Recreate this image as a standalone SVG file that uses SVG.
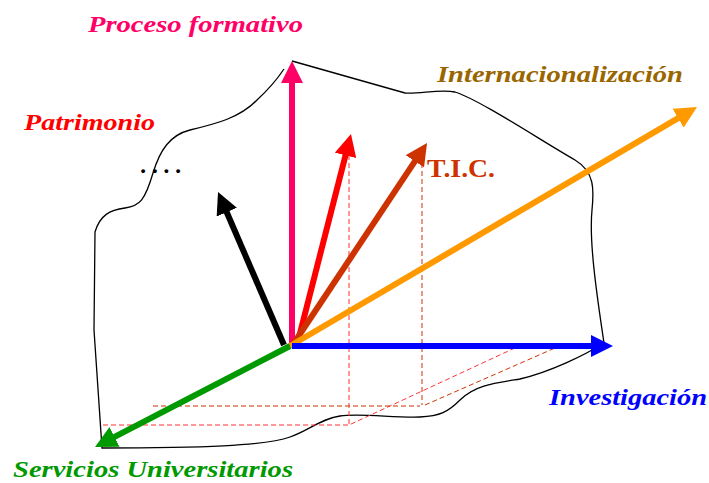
<svg xmlns="http://www.w3.org/2000/svg" width="709" height="483" viewBox="0 0 709 483">
<style>
.lbl{font-family:"Liberation Serif","Times New Roman",serif;font-weight:bold;font-style:italic;font-size:24px}
.tic{font-family:"Liberation Serif","Times New Roman",serif;font-weight:bold;font-size:26px;fill:#cc3300}
.vec{fill:none;stroke-width:6;stroke-linecap:butt}
.dr{fill:none;stroke:#ff3333;stroke-width:1;stroke-dasharray:5 3}
.db{fill:none;stroke:#cc3300;stroke-width:1;stroke-dasharray:5 3}
.outline{fill:none;stroke:#000;stroke-width:1.3}
</style>
<defs>
<marker id="hPink" viewBox="0 0 22 22" refX="12" refY="11" markerWidth="22" markerHeight="22" markerUnits="userSpaceOnUse" orient="auto"><path d="M0,0 L22,11 L0,22 z" fill="#ff0066"/></marker>
<marker id="hRed" viewBox="0 0 22 22" refX="12" refY="11" markerWidth="22" markerHeight="22" markerUnits="userSpaceOnUse" orient="auto"><path d="M0,0 L22,11 L0,22 z" fill="#ff0000"/></marker>
<marker id="hBrown" viewBox="0 0 22 22" refX="12" refY="11" markerWidth="22" markerHeight="22" markerUnits="userSpaceOnUse" orient="auto"><path d="M0,0 L22,11 L0,22 z" fill="#cc3300"/></marker>
<marker id="hOrange" viewBox="0 0 22 22" refX="12" refY="11" markerWidth="22" markerHeight="22" markerUnits="userSpaceOnUse" orient="auto"><path d="M0,0 L22,11 L0,22 z" fill="#ff9900"/></marker>
<marker id="hBlue" viewBox="0 0 22 22" refX="12" refY="11" markerWidth="22" markerHeight="22" markerUnits="userSpaceOnUse" orient="auto"><path d="M0,0 L22,11 L0,22 z" fill="#0000ff"/></marker>
<marker id="hGreen" viewBox="0 0 22 22" refX="12" refY="11" markerWidth="22" markerHeight="22" markerUnits="userSpaceOnUse" orient="auto"><path d="M0,0 L22,11 L0,22 z" fill="#009900"/></marker>
<marker id="hBlack" viewBox="0 0 22 22" refX="12" refY="11" markerWidth="22" markerHeight="22" markerUnits="userSpaceOnUse" orient="auto"><path d="M0,0 L22,11 L0,22 z" fill="#000000"/></marker>
</defs>
<rect width="709" height="483" fill="#ffffff"/>
<g id="surface">
<path class="outline" d="M292,61 L405,93 C420,94 440,89 455,92 C480,100 540,140 575,160 C595,172 594,190 592,210 C589,240 596,290 604,343 C585,355 550,372 520,379 C495,383 475,385 460,400 C448,412 440,416 420,417 C395,418 360,413 340,416 C320,419 310,430 290,437 C265,446 200,448 102,448 L94,330 L95,232 C100,215 110,210 125,208 C140,206 145,200 153,173 C160,150 170,135 190,130 C215,124 240,118 257,100 C270,88 278,78 284,69"/>
</g>
<g id="projections">
<path class="dr" d="M349,155 L349,425 M103,425 L349,425 L517,347"/>
<path class="db" d="M422,163 L422,405 M153,406 L420,406 M425,405 L555,348"/>
</g>
<g id="connectors">
<line id="v-black" class="vec" x1="284" y1="345" x2="222" y2="201.2" stroke="#000000" marker-end="url(#hBlack)"/>
<line id="v-pink" class="vec" x1="292" y1="346" x2="292" y2="71" stroke="#ff0066" stroke-width="5" marker-end="url(#hPink)"/>
<line id="v-red" class="vec" x1="297" y1="345" x2="348.5" y2="143.7" stroke="#ff0000" marker-end="url(#hRed)"/>
<line id="v-brown" class="vec" x1="292" y1="346" x2="421.5" y2="151.3" stroke="#cc3300" marker-end="url(#hBrown)"/>
<line id="v-orange" class="vec" x1="290" y1="346" x2="688.4" y2="112.1" stroke="#ff9900" marker-end="url(#hOrange)"/>
<line id="v-blue" class="vec" x1="292" y1="346" x2="603" y2="346" stroke="#0000ff" marker-end="url(#hBlue)"/>
<line id="v-green" class="vec" x1="290" y1="346" x2="103.9" y2="442.4" stroke="#009900" marker-end="url(#hGreen)"/>
</g>
<g id="n-proceso"><text class="lbl" x="88" y="32" fill="#ff0066" textLength="215" lengthAdjust="spacingAndGlyphs">Proceso formativo</text></g>
<g id="n-patrimonio"><text class="lbl" x="24" y="130" fill="#ff0000" textLength="131" lengthAdjust="spacingAndGlyphs">Patrimonio</text></g>
<g id="n-dots"><text class="lbl" x="141" y="173" fill="#000000" font-size="28" textLength="41" lengthAdjust="spacing">....</text></g>
<g id="n-tic"><text class="tic" x="427" y="177" textLength="68" lengthAdjust="spacingAndGlyphs">T.I.C.</text></g>
<g id="n-internacionalizacion"><text class="lbl" x="437" y="82" fill="#996600" textLength="246" lengthAdjust="spacingAndGlyphs">Internacionalización</text></g>
<g id="n-investigacion"><text class="lbl" x="549" y="405" fill="#0000ff" textLength="158" lengthAdjust="spacingAndGlyphs">Investigación</text></g>
<g id="n-servicios"><text class="lbl" x="13" y="477" fill="#009900" textLength="280" lengthAdjust="spacingAndGlyphs">Servicios Universitarios</text></g>
</svg>
